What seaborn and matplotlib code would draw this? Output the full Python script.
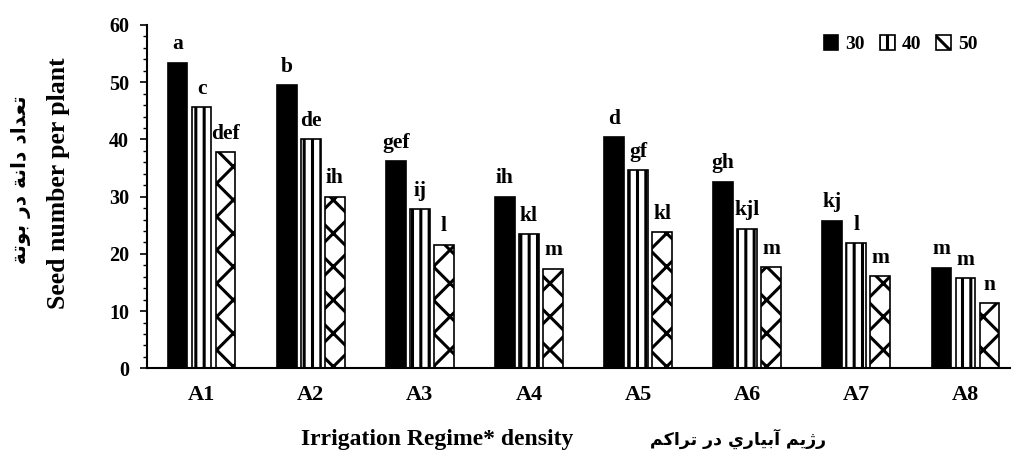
import matplotlib
matplotlib.use("Agg")
import matplotlib.pyplot as plt
from matplotlib.patches import Patch
from matplotlib.ticker import MultipleLocator
import seaborn as sns
import pandas as pd

# data
regimes = ["A1", "A2", "A3", "A4", "A5", "A6", "A7", "A8"]
densities = ["30", "40", "50"]
seeds_30 = [53.4, 49.5, 36.2, 30.0, 40.4, 32.6, 25.8, 17.6]
seeds_40 = [45.6, 40.1, 27.8, 23.4, 34.6, 24.4, 21.9, 15.7]
seeds_50 = [37.8, 30.0, 21.6, 17.4, 23.8, 17.7, 16.1, 11.4]
letters_30 = ["a", "b", "gef", "ih", "d", "gh", "kj", "m"]
letters_40 = ["c", "de", "ij", "kl", "gf", "kjl", "l", "m"]
letters_50 = ["def", "ih", "l", "m", "kl", "m", "m", "n"]

ylabel_en = "Seed number per plant"
ylabel_fa = "تعداد دانة در بوتة"
xlabel_en = "Irrigation Regime* density"
xlabel_fa = "رژيم آبياري در تراكم"

# contextual forms (isolated, final, initial, medial) for the letters used
FORMS = {
    "ا": ("\uFE8D", "\uFE8E", None, None),
    "آ": ("\uFE81", "\uFE82", None, None),
    "ب": ("\uFE8F", "\uFE90", "\uFE91", "\uFE92"),
    "ت": ("\uFE95", "\uFE96", "\uFE97", "\uFE98"),
    "ة": ("\uFE93", "\uFE94", None, None),
    "د": ("\uFEA9", "\uFEAA", None, None),
    "ر": ("\uFEAD", "\uFEAE", None, None),
    "ژ": ("\uFB8A", "\uFB8B", None, None),
    "ع": ("\uFEC9", "\uFECA", "\uFECB", "\uFECC"),
    "ك": ("\uFED9", "\uFEDA", "\uFEDB", "\uFEDC"),
    "م": ("\uFEE1", "\uFEE2", "\uFEE3", "\uFEE4"),
    "ن": ("\uFEE5", "\uFEE6", "\uFEE7", "\uFEE8"),
    "و": ("\uFEED", "\uFEEE", None, None),
    "ي": ("\uFEF1", "\uFEF2", "\uFEF3", "\uFEF4"),
}


def shape_rtl(text):
    out = []
    for i, ch in enumerate(text):
        if ch not in FORMS:
            out.append(ch)
            continue
        prev = text[i - 1] if i > 0 else " "
        nxt = text[i + 1] if i + 1 < len(text) else " "
        join_prev = prev in FORMS and FORMS[prev][2] is not None
        join_next = FORMS[ch][2] is not None and nxt in FORMS
        iso, fin, ini, med = FORMS[ch]
        if join_prev and join_next:
            out.append(med)
        elif join_prev:
            out.append(fin)
        elif join_next:
            out.append(ini)
        else:
            out.append(iso)
    return "".join(out)[::-1]


df = pd.DataFrame({
    "regime": regimes * 3,
    "density": [d for d in densities for _ in regimes],
    "seeds": seeds_30 + seeds_40 + seeds_50,
})

plt.rcParams["hatch.linewidth"] = 2.2
plt.rcParams["hatch.color"] = "black"
serif = "Liberation Serif"

fig = plt.figure(figsize=(10.11, 4.55), dpi=100)
ax = fig.add_axes([147 / 1011, 86.7 / 455, 873 / 1011, 343.3 / 455])

sns.barplot(data=df, x="regime", y="seeds", hue="density", hue_order=densities,
            palette=["black", "white", "white"], saturation=1, width=0.66, gap=0.18,
            edgecolor="black", linewidth=1.2, legend=False, ax=ax)

hatches = ["", "||", "x"]
for cont, h in zip(ax.containers, hatches):
    for bar in cont:
        bar.set_hatch(h)

for cont, labs in zip(ax.containers, [letters_30, letters_40, letters_50]):
    ax.bar_label(cont, labels=labs, padding=6, fontsize=15.5, fontweight="bold",
                 family=serif)

ax.set_xlim(-0.5, 7.5)
ax.set_ylim(0, 60)
ax.set_yticks(range(0, 61, 10))
ax.yaxis.set_minor_locator(MultipleLocator(2))
sns.despine(ax=ax)
ax.spines["left"].set_linewidth(1.5)
ax.spines["bottom"].set_linewidth(1.5)
ax.tick_params(axis="y", which="major", length=5, width=1.2, pad=8, labelsize=14.5)
ax.tick_params(axis="y", which="minor", length=3, width=1.0)
ax.tick_params(axis="x", length=0, pad=12, labelsize=16)
for lab in ax.get_xticklabels() + ax.get_yticklabels():
    lab.set_fontfamily(serif)
    lab.set_fontweight("bold")
ax.set_xlabel("")
ax.set_ylabel("")

fig.text(58 / 1011, 1 - 183 / 455, ylabel_en, rotation=90, ha="center", va="center",
         fontsize=18.5, fontweight="bold", family=serif)
fig.text(21 / 1011, 1 - 180 / 455, shape_rtl(ylabel_fa), rotation=90, ha="center",
         va="center", fontsize=14.5, fontweight="bold", family=["DejaVu Sans"])
fig.text(437 / 1011, 1 - 439 / 455, xlabel_en, ha="center", va="center",
         fontsize=17, fontweight="bold", family=serif)
fig.text(738 / 1011, 1 - 439 / 455, shape_rtl(xlabel_fa), ha="center", va="center",
         fontsize=12.5, fontweight="bold", family=["DejaVu Sans"])

handles = [Patch(facecolor=c, edgecolor="black", hatch=h, linewidth=1.2)
           for c, h in zip(["black", "white", "white"], hatches)]
fig.legend(handles, densities, loc="upper left", bbox_to_anchor=(806 / 1011, 1 - 18 / 455),
           ncol=3, frameon=False, handlelength=0.75, handleheight=0.75,
           handletextpad=0.35, columnspacing=0.8,
           prop={"family": serif, "weight": "bold", "size": 14})

fig.savefig("out.png", dpi=100)
